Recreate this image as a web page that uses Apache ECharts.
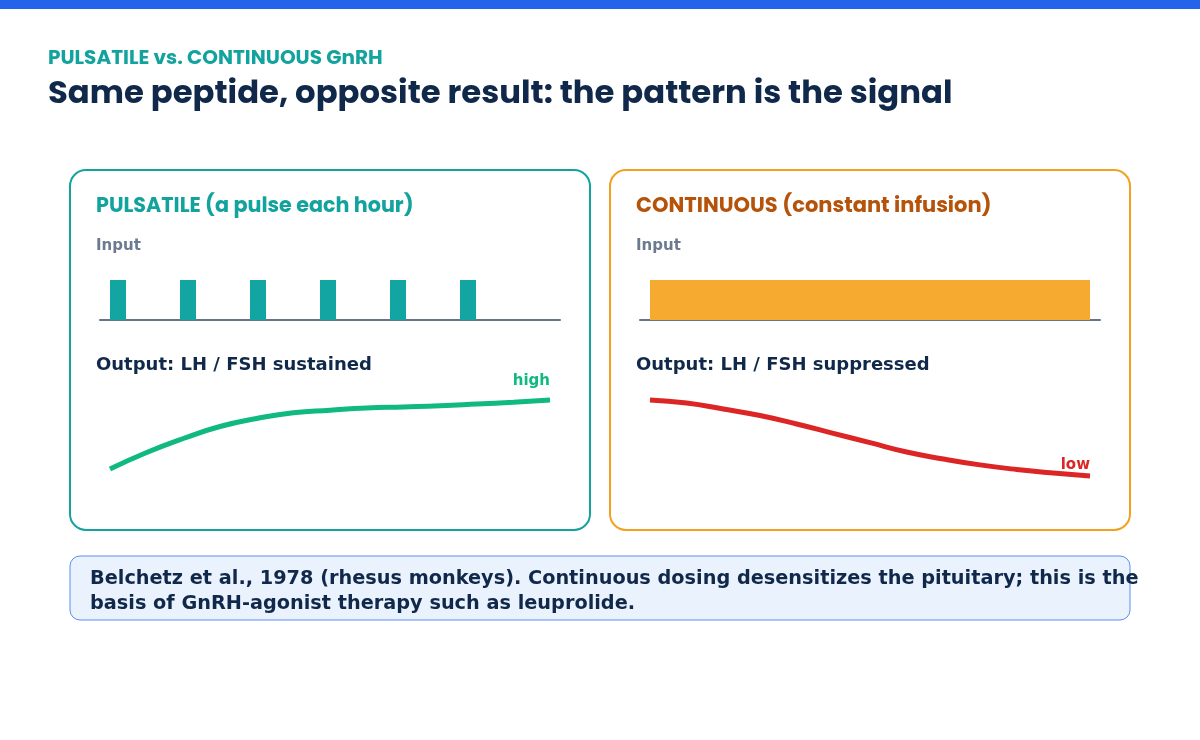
<!DOCTYPE html>
<html>
<head>
<meta charset="utf-8">
<script src="https://cdn.jsdelivr.net/npm/echarts@6/dist/echarts.min.js"></script>
<style>
  html,body{margin:0;padding:0;background:#fff;}
  #chart{width:1200px;height:740px;}
</style>
</head>
<body>
<div id="chart"></div>
<script>
// input pulses, one per hour
const pulseHours=[0,1,2,3,4,5];
const pulseLevel=[1,1,1,1,1,1];
// constant infusion start / end (hours)
const infusionHours=[0,6];
const infusionLevel=[1,1];
// output LH / FSH (relative level 0-100), every half hour
const outHours=[0,0.5,1,1.5,2,2.5,3,3.5,4,4.5,5,5.5,6];
const pulsatileOut=[21,37.5,51.5,63.5,71.5,77.3,79.8,82,83.1,84.3,86,87.8,90];
const continuousOut=[90,87,81,74.5,66,56.7,47.3,38,31,25.1,20.5,16.9,14];

const navy='#10284a';
const teal='#13a39f';
const grey='#6b7a90';
const bodyFont='"DejaVu Sans", sans-serif';
const headFont='Poppins, Inter, sans-serif';

const pair=(xs,ys)=>xs.map((x,i)=>[x,ys[i]]);
const lastLabel=(arr,text,color,dist)=>arr.map((p,i)=>{
    if(i<arr.length-1) return p;
    return {value:p,label:{show:true,formatter:text,position:'top',align:'right',distance:dist,
        color:color,fontFamily:bodyFont,fontWeight:'bold',fontSize:15}};
});

const chart=echarts.init(document.getElementById('chart'),null,{renderer:'canvas'});

const txt=(x,y,text,size,color,weight,font)=>({
    type:'text',left:x,top:y,
    style:{text:text,fontSize:size,fill:color,fontWeight:weight||'bold',fontFamily:font||bodyFont}
});

const inputAxisX=(min,max,idx)=>({type:'value',gridIndex:idx,min:min,max:max,
    axisLine:{show:true,onZero:false,lineStyle:{color:'#64748b',width:2}},
    axisTick:{show:false},axisLabel:{show:false},splitLine:{show:false}});
const hiddenX=(idx)=>({type:'value',gridIndex:idx,min:-0.136,max:6.136,show:false});
const hiddenY=(idx,max)=>({type:'value',gridIndex:idx,min:0,max:max,show:false});

const outLine=(idx,color,data)=>({type:'line',xAxisIndex:idx,yAxisIndex:idx,smooth:true,
    symbol:'circle',symbolSize:0.01,showSymbol:true,showAllSymbol:true,
    itemStyle:{color:color},lineStyle:{color:color,width:5,cap:'butt'},data:data});

const option={
    backgroundColor:'#ffffff',
    animation:false,
    grid:[
        {left:100,width:460,top:280,height:40},
        {left:640,width:460,top:280,height:40},
        {left:100,width:460,top:390,height:100},
        {left:640,width:460,top:390,height:100}
    ],
    xAxis:[
        inputAxisX(-0.257,6.314,0),
        inputAxisX(-0.136,6.136,1),
        hiddenX(2),
        hiddenX(3)
    ],
    yAxis:[hiddenY(0,1),hiddenY(1,1),hiddenY(2,100),hiddenY(3,100)],
    series:[
        {type:'bar',xAxisIndex:0,yAxisIndex:0,barWidth:16,
            itemStyle:{color:'#12a5a2'},data:pair(pulseHours,pulseLevel)},
        {type:'line',xAxisIndex:1,yAxisIndex:1,symbol:'none',
            lineStyle:{width:0},areaStyle:{color:'#f6ab30',opacity:1},
            data:pair(infusionHours,infusionLevel)},
        outLine(2,'#10b981',lastLabel(pair(outHours,pulsatileOut),'high','#10b981',11)),
        outLine(3,'#dc2626',lastLabel(pair(outHours,continuousOut),'low','#dc2626',3))
    ],
    graphic:[
        {type:'rect',shape:{x:0,y:0,width:1200,height:9},style:{fill:'#2563eb'}},
        {type:'rect',shape:{x:70,y:170,width:520,height:360,r:16},style:{fill:'none',stroke:teal,lineWidth:2}},
        {type:'rect',shape:{x:610,y:170,width:520,height:360,r:16},style:{fill:'none',stroke:'#f2a01e',lineWidth:2}},
        {type:'rect',shape:{x:70,y:556,width:1060,height:64,r:10},style:{fill:'#eaf2fd',stroke:'#5b8def',lineWidth:1}},
        txt(48,49,'PULSATILE vs. CONTINUOUS GnRH',20,teal,'bold',headFont),
        txt(48,79,'Same peptide, opposite result: the pattern is the signal',32.3,navy,'bold',headFont),
        txt(96,196,'PULSATILE (a pulse each hour)',20.7,teal,'bold',headFont),
        txt(636,196,'CONTINUOUS (constant infusion)',21,'#b45309','bold',headFont),
        txt(96,239,'Input',15,grey),
        txt(636,239,'Input',15,grey),
        txt(96,356,'Output: LH / FSH sustained',18,navy),
        txt(636,356,'Output: LH / FSH suppressed',18,navy),
        {type:'text',left:90,top:566,z:10,style:{
            text:'Belchetz et al., 1978 (rhesus monkeys). Continuous dosing desensitizes the pituitary; this is the\nbasis of GnRH-agonist therapy such as leuprolide.',
            fontSize:19.3,lineHeight:25,fill:navy,fontWeight:'bold',fontFamily:bodyFont}}
    ]
};
chart.setOption(option);
</script>
</body>
</html>
